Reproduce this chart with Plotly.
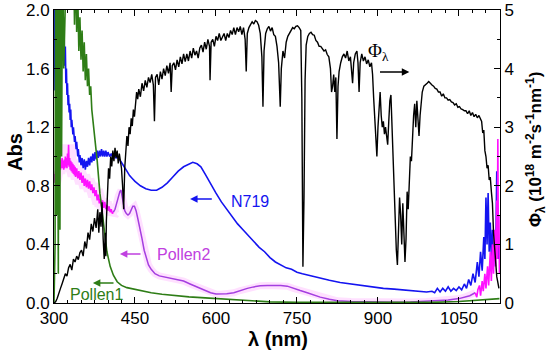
import plotly.graph_objects as go

# ---------------- data ----------------
# Solar photon flux (right axis, 1e18 m^-2 s^-1 nm^-1)
solar = [
    (300,0.0),(303,0.02),(306,0.08),(309,0.15),(312,0.25),(315,0.33),(318,0.42),(321,0.5),(324,0.46),
    (327,0.6),(330,0.66),(333,0.56),(336,0.75),(339,0.7),(342,0.8),(345,0.74),(348,0.86),(351,0.9),
    (354,0.8),(357,1.05),(360,0.93),(363,1.2),(366,1.08),(369,1.35),(372,1.22),(375,1.45),(378,1.28),
    (381,1.6),(383,1.2),(385,1.55),(387,1.3),(389,1.72),(391,1.1),(393,0.75),(395,1.2),(396,0.8),
    (397,1.4),(399,2.0),(401,2.3),(403,2.12),(405,2.5),(407,2.33),(409,2.6),(411,2.42),(413,2.65),
    (415,2.48),(417,2.6),(419,2.38),(421,2.55),(423,2.42),(425,2.3),(427,2.0),(429,1.6),(431,2.3),
    (433,2.6),(435,2.85),(437,2.68),(439,3.0),(441,2.88),(443,3.15),(445,3.02),(447,3.3),(449,3.18),
    (451,3.45),(453,3.6),(455,3.48),(457,3.65),(460,3.52),(463,3.75),(466,3.62),(469,3.8),(472,3.68),
    (475,3.85),(478,3.76),(481,3.9),(484,3.72),(486,3.1),(488,3.85),(491,3.9),(494,3.72),(497,3.95),
    (500,3.82),(503,4.0),(506,3.88),(509,4.05),(512,3.92),(515,4.1),(517,3.6),(519,4.05),(522,4.1),
    (525,3.98),(528,4.15),(531,4.03),(534,4.2),(537,4.08),(540,4.25),(543,4.12),(546,4.25),(549,4.13),
    (552,4.3),(555,4.18),(558,4.35),(561,4.23),(564,4.3),(567,4.18),(570,4.35),(573,4.4),(576,4.28),
    (579,4.45),(582,4.33),(585,4.5),(588,4.38),(589,3.8),(591,4.45),(594,4.5),(597,4.38),(600,4.55),
    (603,4.48),(606,4.6),(609,4.48),(612,4.55),(615,4.6),(618,4.48),(621,4.6),(624,4.53),(627,4.65),
    (630,4.58),(633,4.7),(636,4.58),(639,4.7),(642,4.63),(645,4.72),(648,4.58),(651,4.7),(654,4.5),
    (656,3.95),(658,4.6),(661,4.7),(664,4.75),(667,4.8),(670,4.76),(673,4.82),(676,4.8),(679,4.74),
    (682,4.6),(685,4.2),(687,3.35),(689,4.3),(692,4.6),(695,4.68),(698,4.72),(701,4.64),(704,4.7),
    (707,4.58),(710,4.55),(713,4.38),(716,4.1),(719,3.35),(721,4.0),(724,4.3),(727,4.18),(730,4.45),
    (733,4.55),(736,4.6),(739,4.65),(742,4.7),(745,4.68),(748,4.72),(751,4.73),(754,4.7),(757,4.65),
    (759,3.5),(761,0.62),(763,1.8),(765,3.8),(767,4.4),(770,4.55),(773,4.6),(776,4.62),(779,4.58),
    (782,4.57),(785,4.48),(788,4.45),(791,4.38),(794,4.38),(797,4.33),(800,4.3),(803,4.32),(806,4.24),
    (809,4.2),(812,4.0),(814,3.6),(816,3.7),(818,3.9),(820,3.6),(822,3.85),(824,2.8),(826,3.7),
    (828,3.95),(831,4.1),(834,4.2),(837,4.25),(840,4.18),(843,4.3),(846,4.13),(849,4.2),(851,3.9),
    (853,3.75),(855,4.1),(858,4.25),(861,4.3),(863,4.1),(865,3.6),(867,4.1),(870,4.25),(873,4.13),
    (876,4.2),(879,4.08),(882,4.15),(885,4.03),(888,4.1),(890,3.9),(892,3.5),(894,3.2),(896,2.9),
    (898,2.5),(900,3.0),(902,3.3),(904,3.6),(906,3.2),(908,3.0),(910,3.1),(912,2.88),(914,3.0),
    (916,2.8),(918,2.7),(920,3.1),(922,3.45),(924,3.55),(926,3.0),(928,2.5),(930,2.2),(932,1.6),
    (934,0.9),(936,0.65),(938,1.2),(940,1.8),(942,1.5),(944,1.0),(946,1.7),(948,1.3),(950,0.7),
    (952,1.1),(954,1.9),(956,1.6),(958,2.2),(960,2.5),(962,2.42),(964,2.9),(966,3.2),(968,3.4),
    (970,3.0),(972,3.45),(974,3.0),(976,2.85),(978,3.2),(980,3.5),(982,3.6),(985,3.7),(988,3.72),
    (991,3.75),(994,3.78),(997,3.74),(1000,3.72),(1003,3.7),(1006,3.66),(1009,3.65),(1012,3.6),
    (1015,3.6),(1018,3.53),(1021,3.57),(1024,3.5),(1027,3.5),(1030,3.46),(1033,3.47),(1036,3.43),
    (1039,3.42),(1042,3.38),(1045,3.4),(1048,3.34),(1051,3.35),(1054,3.31),(1057,3.3),(1060,3.28),
    (1063,3.28),(1066,3.23),(1069,3.28),(1072,3.2),(1075,3.25),(1078,3.18),(1081,3.22),(1084,3.16),
    (1087,3.2),(1090,3.14),(1092,3.1),(1094,2.9),(1096,2.95),(1098,2.6),(1100,2.5),(1102,2.3),
    (1104,2.35),(1106,2.1),(1108,2.15),(1110,1.9),(1112,1.7),(1114,1.2),(1116,0.9),(1118,0.6),
    (1120,0.45),(1122,0.35),(1124,0.25),
]

# N719 absorbance (left axis)
n719 = [
    (300,1.45),(302,2.4),(304,1.9),(306,2.5),(308,2.2),(310,2.5),(312,2.1),(314,2.5),(316,2.05),
    (317,1.8),(318,1.95),(319,1.7),(320,1.62),(321,1.75),(322,1.5),(323,1.6),(324,1.42),(325,1.5),
    (326,1.35),(327,1.42),(328,1.3),(329,1.36),(330,1.25),(331,1.32),(332,1.2),(333,1.25),(335,1.15),
    (336,1.2),(338,1.1),(339,1.14),(341,1.05),(342,1.1),(344,1.0),(345,1.05),(347,0.96),(348,1.01),
    (350,0.94),(352,0.99),(354,0.92),(356,0.98),(358,0.91),(360,0.97),(362,0.93),(364,0.99),(366,0.94),
    (368,1.0),(370,0.96),(372,1.02),(374,0.97),(376,1.03),(378,0.98),(380,1.04),(382,0.99),(384,1.04),
    (386,1.0),(388,1.05),(390,1.0),(392,1.04),(394,1.0),(396,1.04),(398,1.0),(400,1.03),(403,1.0),
    (406,1.02),(409,0.99),(412,1.01),(415,0.99),(418,1.0),(421,0.98),(425,0.96),(430,0.93),(435,0.9),
    (440,0.87),(445,0.85),(450,0.83),(460,0.8),(470,0.78),(480,0.77),(490,0.77),(500,0.79),(510,0.82),
    (520,0.86),(530,0.9),(540,0.93),(550,0.95),(557,0.96),(565,0.95),(572,0.93),(580,0.88),(590,0.81),
    (600,0.75),(610,0.69),(620,0.64),(630,0.59),(640,0.54),(650,0.5),(660,0.46),(670,0.42),(680,0.38),
    (690,0.35),(700,0.31),(710,0.28),(720,0.26),(730,0.24),(740,0.23),(750,0.21),(760,0.2),(775,0.185),
    (790,0.17),(810,0.155),(830,0.14),(850,0.13),(870,0.12),(890,0.11),(910,0.1),(930,0.095),
    (950,0.09),(970,0.08),(990,0.075),(1000,0.08),(1005,0.07),(1010,0.1),(1015,0.075),(1020,0.1),
    (1025,0.08),(1030,0.11),(1035,0.08),(1040,0.1),(1045,0.085),(1050,0.11),(1055,0.09),(1060,0.13),
    (1064,0.1),(1068,0.16),(1072,0.12),(1076,0.2),(1080,0.14),(1084,0.28),(1087,0.18),(1090,0.35),
    (1093,0.22),(1096,0.45),(1098,0.3),(1100,0.72),(1102,0.4),(1104,0.75),(1106,0.35),(1108,0.55),
    (1110,0.3),(1112,0.5),(1114,0.25),(1116,0.4),(1118,0.3),(1120,0.9),(1122,0.4),(1124,0.3),
]

# Pollen1 absorbance (left axis)
pollen1 = [
    (300,0.0),(302,0.4),(303,2.5),(305,0.6),(306,2.4),(308,0.2),(309,2.5),(311,0.5),(312,2.5),
    (314,1.0),(316,2.5),(318,1.6),(320,2.5),(322,2.2),(324,2.5),(326,2.1),(328,2.5),(330,2.0),
    (332,2.5),(334,2.0),(336,2.4),(338,1.9),(340,2.3),(342,1.85),(344,2.1),(346,1.72),(348,1.95),
    (350,1.66),(352,1.86),(354,1.58),(356,1.78),(358,1.52),(360,1.7),(362,1.48),(364,1.6),(366,1.42),
    (368,1.48),(370,1.32),(373,1.22),(376,1.12),(380,0.97),(385,0.75),(391,0.55),(398,0.35),
    (404,0.25),(410,0.19),(417,0.145),(425,0.12),(435,0.105),(450,0.092),(465,0.08),(480,0.07),
    (500,0.06),(520,0.052),(550,0.042),(580,0.035),(610,0.028),(640,0.02),(670,0.013),(700,0.008),
    (750,0.004),(800,0.003),(900,0.002),(1000,0.004),(1050,0.01),(1100,0.02),(1125,0.03),
]

# Pollen2 absorbance (left axis): noisy UV part, smooth visible part, noisy NIR tail
pollen2_uv = [
    (300,0.82),(301,0.88),(302,0.84),(303,0.9),(304,0.85),(305,0.93),(306,0.87),(307,0.95),(308,0.89),
    (309,0.96),(310,0.9),(311,0.97),(312,0.91),(313,0.98),(314,0.92),(315,0.99),(316,0.92),(317,0.97),
    (318,0.91),(319,0.98),(320,0.92),(321,1.0),(322,0.93),(323,0.99),(324,0.92),(325,1.02),(326,0.94),
    (327,1.08),(328,0.93),(329,0.99),(330,0.91),(331,0.97),(332,0.9),(333,0.96),(334,0.89),(335,0.95),
    (336,0.88),(337,0.94),(338,0.87),(339,0.93),(340,0.86),(342,0.92),(344,0.85),(346,0.9),(348,0.84),
    (350,0.89),(352,0.82),(354,0.87),(356,0.8),(358,0.85),(360,0.79),(362,0.84),(364,0.78),(366,0.83),
    (368,0.77),(370,0.81),(372,0.75),(374,0.79),(376,0.73),(378,0.77),(380,0.7),(382,0.74),(384,0.68),
    (386,0.71),(388,0.66),(390,0.7),(392,0.65),(394,0.69),(396,0.64),(398,0.67),(400,0.63),(402,0.66),
    (404,0.62),(406,0.64),(408,0.61),(410,0.62),
]
pollen2_vis = [
    (410,0.62),(413,0.64),(416,0.68),(419,0.73),(422,0.76),(424,0.77),(426,0.73),(428,0.68),(431,0.63),
    (434,0.61),(437,0.6),(440,0.61),(443,0.64),(446,0.66),(449,0.66),(452,0.63),(455,0.58),(459,0.52),
    (463,0.44),(467,0.36),(471,0.3),(475,0.26),(480,0.23),(487,0.2),(495,0.185),(510,0.175),
    (525,0.165),(540,0.15),(552,0.13),(562,0.115),(571,0.1),(580,0.085),(590,0.07),(600,0.062),
    (610,0.06),(620,0.063),(633,0.07),(645,0.085),(658,0.1),(670,0.11),(682,0.118),(695,0.12),
    (706,0.121),(720,0.12),(732,0.115),(743,0.1),(756,0.085),(769,0.07),(781,0.055),(793,0.04),
    (810,0.025),(825,0.015),(850,0.01),(873,0.008),(900,0.006),(930,0.005),(960,0.006),(990,0.01),
    (1010,0.015),(1030,0.02),(1050,0.03),(1060,0.04),(1070,0.05),(1080,0.07),
]
pollen2_nir = [
    (1080,0.07),(1083,0.04),(1085,0.09),(1088,0.12),(1090,0.05),(1093,0.15),(1095,0.08),(1098,0.2),
    (1100,0.1),(1103,0.25),(1105,0.12),(1108,0.35),(1110,0.15),(1112,0.4),(1114,0.2),(1116,0.5),
    (1118,0.25),(1120,0.7),(1121,0.3),(1122,1.12),(1123,0.4),(1124,0.6),(1125,0.2),
]

x_ticks = [300, 450, 600, 750, 900, 1050]
abs_ticks = [0.0, 0.4, 0.8, 1.2, 1.6, 2.0]
phi_ticks = [0, 1, 2, 3, 4, 5]

FONT = "Liberation Sans, Arial, sans-serif"
BLUE = "#1414f0"
GREEN = "#2e7d16"
MAGENTA = "#ff10ff"
VIOLET = "#a43ee0"
PINK = "#ffe0ff"

W, H = 550, 352
ML, MR, MT, MB = 54, 50, 10, 49


def xs(d):
    return [p[0] for p in d]


def ys(d):
    return [p[1] for p in d]


def px2paper(px, py):
    return (px - ML) / (W - ML - MR), 1 - (py - MT) / (H - MT - MB)


fig = go.Figure()
fig.add_trace(go.Scatter(x=xs(pollen2_uv), y=ys(pollen2_uv), mode="lines",
                         line=dict(color=PINK, width=14), yaxis="y", hoverinfo="skip"))
fig.add_trace(go.Scatter(x=xs(pollen2_vis), y=ys(pollen2_vis), mode="lines",
                         line=dict(color=PINK, width=7), yaxis="y", hoverinfo="skip"))
fig.add_trace(go.Scatter(x=xs(pollen2_vis), y=ys(pollen2_vis), mode="lines",
                         line=dict(color=VIOLET, width=1.5), yaxis="y", name="Pollen2"))
fig.add_trace(go.Scatter(x=xs(pollen2_uv), y=ys(pollen2_uv), mode="lines",
                         line=dict(color=MAGENTA, width=1.6), yaxis="y", name="Pollen2 UV"))
fig.add_trace(go.Scatter(x=xs(n719), y=ys(n719), mode="lines",
                         line=dict(color=BLUE, width=1.6), yaxis="y", name="N719"))
fig.add_trace(go.Scatter(x=xs(pollen2_nir), y=ys(pollen2_nir), mode="lines",
                         line=dict(color=MAGENTA, width=1.6), yaxis="y", name="Pollen2 NIR"))
fig.add_trace(go.Scatter(x=xs(pollen1), y=ys(pollen1), mode="lines",
                         line=dict(color=GREEN, width=1.6), yaxis="y", name="Pollen1"))
fig.add_trace(go.Scatter(x=xs(solar), y=ys(solar), mode="lines",
                         line=dict(color="black", width=1.4), yaxis="y2", name="Phi"))

axis_common = dict(showline=True, linecolor="black", linewidth=1, ticks="inside",
                   tickcolor="black", ticklen=6, tickwidth=1, showgrid=False, zeroline=False,
                   tickfont=dict(family=FONT, size=17, color="black"))

fig.update_layout(
    width=W, height=H,
    margin=dict(l=ML, r=MR, t=MT, b=MB, autoexpand=False),
    paper_bgcolor="white", plot_bgcolor="white",
    showlegend=False,
    font=dict(family=FONT, size=17, color="black"),
    xaxis=dict(range=[300, 1126], tickvals=x_ticks, mirror="ticks",
               minor=dict(ticks="inside", dtick=25, tick0=300, ticklen=3, tickcolor="black"),
               **axis_common),
    yaxis=dict(range=[0, 2], tickvals=abs_ticks, tickformat=".1f",
               minor=dict(ticks="inside", dtick=0.2, ticklen=3, tickcolor="black"),
               **axis_common),
    yaxis2=dict(range=[0, 5], tickvals=phi_ticks, overlaying="y", side="right",
                minor=dict(ticks="inside", dtick=0.5, ticklen=3, tickcolor="black"),
                **axis_common),
)

# axis titles (positions given in pixels, converted to paper coordinates)
titles = [
    (15, 152, "<b>Abs</b>", -90, 20),
    (278, 339, "<b>λ (nm)</b>", 0, 20),
    (535, 150, "<b>Φ<sub>λ</sub> (10<sup>18</sup> m<sup>-2</sup>s<sup>-1</sup>nm<sup>-1</sup>)</b>", -90, 17),
]
for tx, ty, txt, ang, sz in titles:
    px_, py_ = px2paper(tx, ty)
    fig.add_annotation(x=px_, y=py_, xref="paper", yref="paper", text=txt, textangle=ang,
                       showarrow=False, xanchor="center", yanchor="middle",
                       font=dict(family=FONT, size=sz, color="black"))


# series labels with arrows (data coordinates)
def label(text, tx, ty, color, tail, head, ay, yref="y", size=16):
    fig.add_annotation(x=tx, y=ty, xref="x", yref=yref, text=text, showarrow=False,
                       xanchor="left", yanchor="middle", font=dict(family=FONT, size=size, color=color))
    fig.add_annotation(x=head, y=ay, ax=tail, ay=ay, xref="x", yref=yref, axref="x", ayref=yref,
                       text="", showarrow=True, arrowhead=2, arrowsize=1, arrowwidth=1.5,
                       arrowcolor=color)


label("N719", 624, 0.69, BLUE, 595, 552, 0.71)
label("Pollen2", 487, 0.33, "#c040e0", 463, 422, 0.335)
label("Pollen1", 326, 0.055, GREEN, 413, 372, 0.137)
fig.add_annotation(x=901, y=4.28, xref="x", yref="y2", text="Φ<sub>λ</sub>", showarrow=False,
                   font=dict(family="Liberation Serif, Times New Roman, serif", size=19, color="black"))
fig.add_annotation(x=958, y=3.94, ax=901, ay=3.94, xref="x", yref="y2", axref="x", ayref="y2",
                   text="", showarrow=True, arrowhead=2, arrowsize=1, arrowwidth=1.5, arrowcolor="black")

fig.write_html("out.html", config={"displayModeBar": False},
               post_script="document.body.style.margin='0';document.body.style.padding='0';")
